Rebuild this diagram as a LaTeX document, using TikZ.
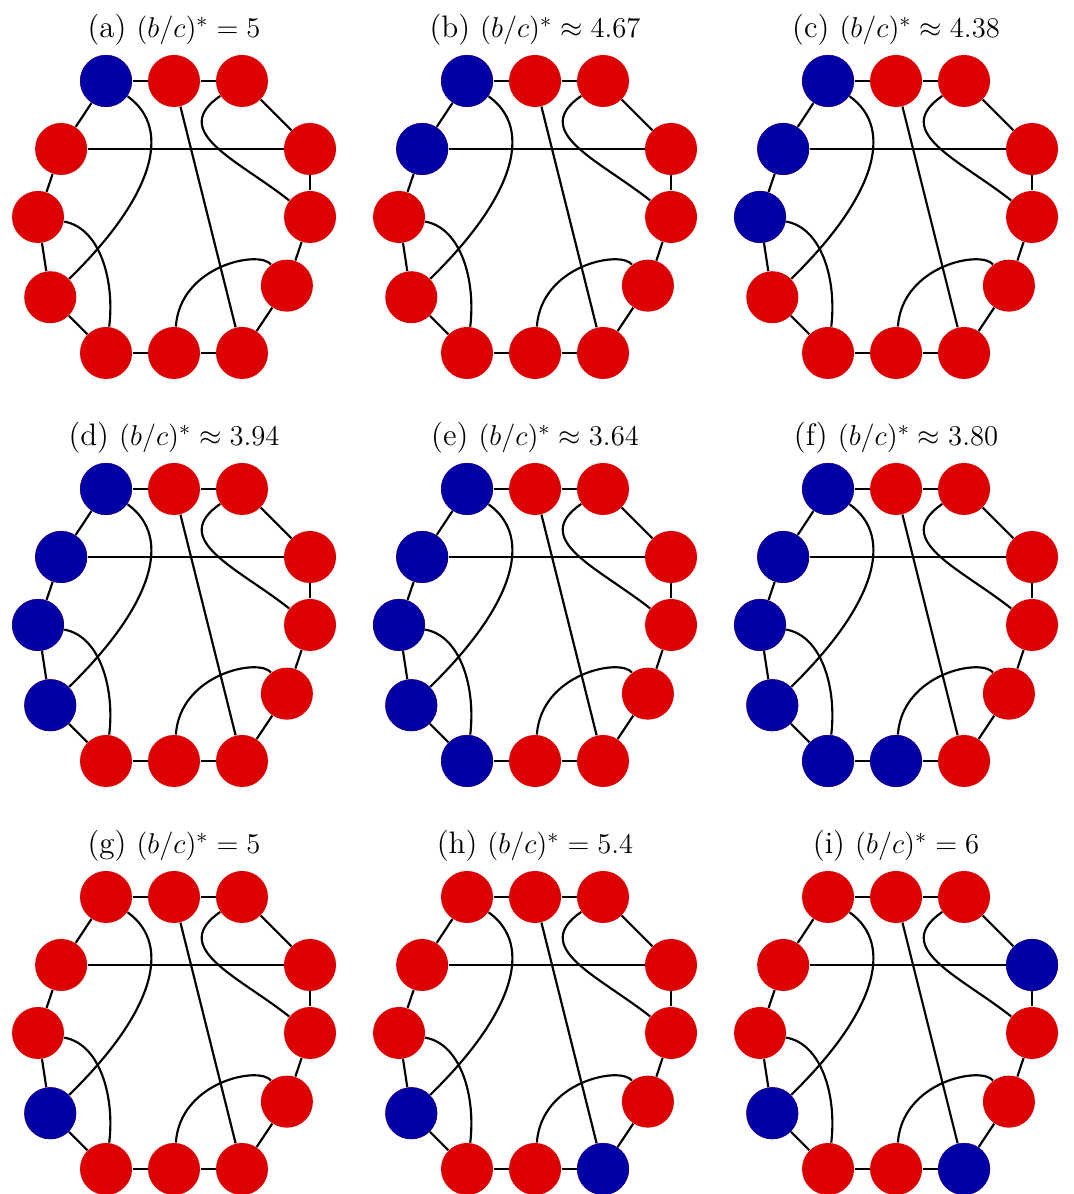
\documentclass[tikz,border=0pt]{standalone}
\usepackage{amsmath}
\usepackage{amssymb}
\usepackage{tikz}
\usepackage{xcolor}
\usetikzlibrary{calc}

\definecolor{vred}{RGB}{221,0,0}
\definecolor{vblue}{RGB}{0,0,165}

\tikzset{
    vtx/.style={circle, fill=vred, minimum size=0.765cm, inner sep=0pt},
    bvtx/.style={vtx, fill=vblue},
    edge/.style={line width=0.9pt}
}

% one ring graph: #1 prefix, #2 shift, #3 title, #4 blue vertices
\newcommand{\ringgraph}[4]{%
    \begin{scope}[shift={#2}]
        \node (#1-title) at (0,2.75) {#3};
        \foreach \i/\x/\y in {0/-1/2, 1/0/2, 2/1/2, 3/2/1, 4/2/0, 5/1.66/-1.01,
                6/1/-2, 7/0/-2, 8/-1/-2, 9/-1.82/-1.18, 10/-2/0, 11/-1.66/1}
            \node[vtx] (#1-\i) at (\x,\y) {};
        \foreach \b in {#4}
            \node[bvtx] (#1-\b) at (#1-\b) {};
        % ring
        \foreach \i/\j in {0/1, 1/2, 2/3, 3/4, 4/5, 5/6, 6/7, 7/8, 8/9, 9/10, 10/11, 11/0}
            \draw[edge] (#1-\i) -- (#1-\j);
        % chords
        \draw[edge] (#1-11) -- (#1-3);
        \draw[edge] (#1-1) -- (#1-6);
        \draw[edge] (#1-0) .. controls +(1.01,-0.72) and +(1.47,1.43) .. (#1-9);
        \draw[edge] (#1-2) .. controls +(-1.09,-0.75) and +(-1.06,0.84) .. (#1-4);
        \draw[edge] (#1-10) .. controls +(0.91,-0.16) and +(0.13,1.07) .. (#1-8);
        \draw[edge] (#1-5) .. controls +(-0.40,0.53) and +(0.09,1.29) .. (#1-7);
    \end{scope}
}

\begin{document}
\begin{tikzpicture}[font=\fontsize{13}{16}\selectfont]
    \useasboundingbox (-2.559,3.191) rectangle (13.221,-14.368);
    \ringgraph{a}{(0,0)}{(a) $(b/c)^* = 5$}{0}
    \ringgraph{b}{(5.309,0)}{(b) $(b/c)^* \approx 4.67$}{0,11}
    \ringgraph{c}{(10.618,0)}{(c) $(b/c)^* \approx 4.38$}{0,11,10}
    \ringgraph{d}{(0,-6)}{(d) $(b/c)^* \approx 3.94$}{0,11,10,9}
    \ringgraph{e}{(5.309,-6)}{(e) $(b/c)^* \approx 3.64$}{0,11,10,9,8}
    \ringgraph{f}{(10.618,-6)}{(f) $(b/c)^* \approx 3.80$}{0,11,10,9,8,7}
    \ringgraph{g}{(0,-12)}{(g) $(b/c)^* = 5$}{9}
    \ringgraph{h}{(5.309,-12)}{(h) $(b/c)^* = 5.4$}{9,6}
    \ringgraph{i}{(10.618,-12)}{(i) $(b/c)^* = 6$}{9,6,3}
\end{tikzpicture}
\end{document}
